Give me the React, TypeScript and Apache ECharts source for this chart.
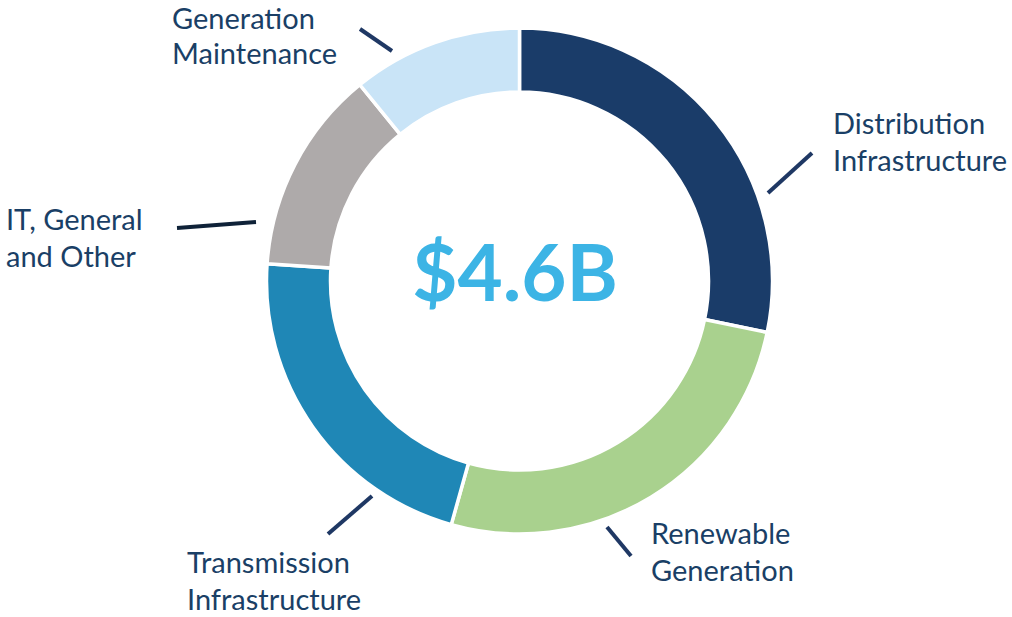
import React, { useEffect, useRef } from "react";
import * as echarts from "echarts";

const categories = [
  "Distribution Infrastructure",
  "Renewable Generation",
  "Transmission Infrastructure",
  "IT, General and Other",
  "Generation Maintenance",
];
const labelLines = [
  "Distribution\nInfrastructure",
  "Renewable\nGeneration",
  "Transmission\nInfrastructure",
  "IT, General\nand Other",
  "Generation\nMaintenance",
];
const values = [1.3, 1.2, 1.0, 0.6, 0.5];
const colors = ["#1a3c69", "#a9d18e", "#1f87b6", "#aeaaaa", "#c9e4f7"];
const totalLabel = "$4.6B";

// label anchor (left, top) and guide line endpoints
const labelPos = [
  { x: 833, y: 104, line: [[768, 193], [812, 153]] },
  { x: 651, y: 514, line: [[607, 527], [631, 556]] },
  { x: 187, y: 543, line: [[372, 496], [328, 534]] },
  { x: 6, y: 200, line: [[256, 222], [177, 228]] },
  { x: 172, y: 0, line: [[392, 51], [360, 29]] },
];

export default function App() {
  const ref = useRef<HTMLDivElement>(null);
  useEffect(() => {
    if (!ref.current) return;
    const chart = echarts.init(ref.current, undefined, { renderer: "svg" });
    chart.setOption({
      animation: false,
      backgroundColor: "#ffffff",
      graphic: [
        {
          type: "text",
          x: 515,
          y: 271,
          style: {
            text: totalLabel,
            fill: "#3cb4e5",
            font: "bold 78px Lato",
            textAlign: "center",
            textVerticalAlign: "middle",
          },
        },
      ],
      series: [
        {
          type: "pie",
          center: [519.5, 281],
          radius: [189, 253],
          startAngle: 90,
          clockwise: true,
          avoidLabelOverlap: false,
          itemStyle: { borderColor: "#ffffff", borderWidth: 3.5 },
          label: {
            show: true,
            formatter: (p: any) => labelLines[p.dataIndex],
            color: "#1a3f66",
            fontFamily: "Lato",
            fontSize: 29,
            lineHeight: 37,
          },
          labelLine: {
            show: true,
            lineStyle: { color: "#1f3864", width: 4, cap: "butt" },
          },
          labelLayout: (params: any) => {
            const p = labelPos[params.dataIndex];
            return {
              x: p.x,
              y: p.y,
              align: "left",
              verticalAlign: "top",
              labelLinePoints: [p.line[0], p.line[1], p.line[1]],
            };
          },
          data: categories.map((name, i) => ({
            name,
            value: values[i],
            itemStyle: { color: colors[i] },
            label: i === 4 ? { lineHeight: 35 } : undefined,
            labelLine: i === 3 ? { lineStyle: { color: "#0f2238" } } : undefined,
          })),
        },
      ],
    });
    return () => chart.dispose();
  }, []);
  return (
    <div
      ref={ref}
      style={{ position: "fixed", left: 0, top: 0, width: 1012, height: 617 }}
    />
  );
}
